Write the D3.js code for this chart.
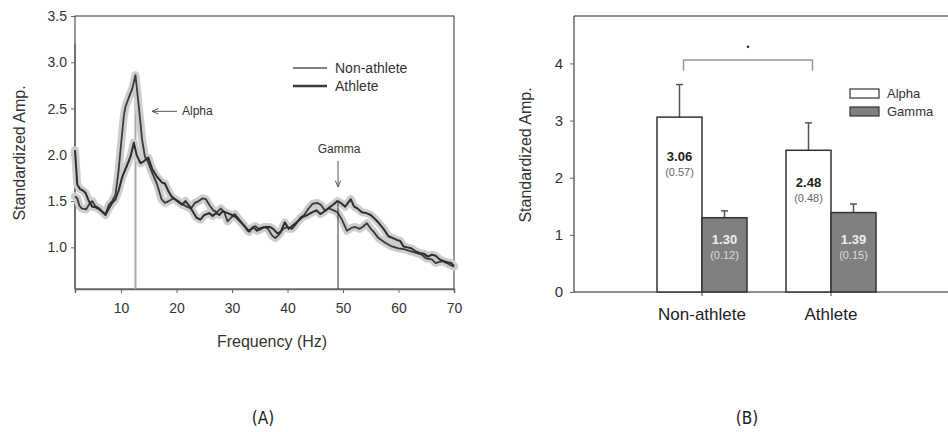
<!DOCTYPE html>
<html>
<head>
<meta charset="utf-8">
<script src="https://cdn.jsdelivr.net/npm/d3@7"></script>
<style>
  body { margin: 0; background: #fff; }
  svg text { font-family: "Liberation Sans", Arial, sans-serif; }
</style>
</head>
<body>
<div id="chart"></div>
<script>
// ---- panel A data: [frequency Hz, standardized amplitude] ----
const nonAthlete = [
  [1.7,1.55],[2.1,1.53],[2.5,1.45],[2.9,1.42],[3.7,1.41],[4.3,1.47],[4.8,1.5],[5.3,1.45],
  [6.1,1.42],[6.7,1.38],[7.2,1.36],[7.8,1.46],[8.4,1.5],[9.0,1.57],[9.5,1.8],[9.9,2.05],
  [10.5,2.42],[10.8,2.52],[11.4,2.62],[12.0,2.71],[12.6,2.86],[13.2,2.52],[13.8,2.16],
  [14.3,1.98],[14.8,1.93],[15.5,1.82],[16.5,1.68],[17.3,1.52],[17.9,1.48],[18.6,1.5],
  [19.5,1.53],[20.3,1.5],[21.0,1.47],[21.8,1.44],[22.6,1.42],[23.3,1.48],[24.0,1.5],
  [24.7,1.53],[25.3,1.52],[26.0,1.45],[26.6,1.40],[27.3,1.38],[28.0,1.42],[28.6,1.38],
  [29.2,1.28],[29.8,1.32],[30.5,1.36],[31.3,1.3],[32.0,1.25],[32.8,1.18],[33.5,1.2],
  [34.2,1.23],[35.0,1.19],[35.8,1.22],[36.5,1.2],[37.2,1.13],[37.8,1.1],[38.5,1.14],
  [39.2,1.2],[40.0,1.22],[40.8,1.2],[41.5,1.25],[42.3,1.32],[43.0,1.35],[43.8,1.42],
  [44.5,1.47],[45.3,1.48],[46.0,1.46],[46.7,1.40],[47.5,1.42],[48.3,1.4],[49.0,1.38],
  [49.8,1.3],[50.7,1.18],[51.5,1.21],[52.2,1.22],[53.0,1.2],[53.5,1.22],[54.3,1.26],
  [55.0,1.2],[55.5,1.17],[56.4,1.10],[57.6,1.05],[58.8,1.01],[60.0,0.99],[61.0,0.98],
  [62.1,0.96],[63.2,0.94],[64.2,0.92],[65.0,0.88],[66.0,0.87],[66.7,0.83],[67.2,0.84],
  [68.0,0.85],[68.7,0.83],[69.3,0.81],[70,0.79]
];
const athlete = [
  [1.7,2.05],[2.1,1.68],[2.6,1.63],[3.0,1.62],[3.6,1.59],[4.2,1.5],[4.8,1.44],[5.5,1.43],
  [6.1,1.41],[6.7,1.38],[7.2,1.35],[7.8,1.42],[8.4,1.48],[9.0,1.52],[9.6,1.62],[10.2,1.76],
  [11.1,1.89],[11.7,1.98],[12.3,2.13],[12.8,2.0],[13.5,1.91],[14.1,1.93],[14.9,1.97],
  [15.6,1.85],[16.5,1.76],[17.4,1.7],[17.9,1.69],[18.6,1.6],[19.1,1.55],[20.3,1.49],
  [21.0,1.46],[21.6,1.5],[22.4,1.44],[23.0,1.38],[23.6,1.32],[24.3,1.3],[25.0,1.35],
  [25.9,1.37],[26.5,1.34],[27.1,1.37],[27.7,1.35],[28.3,1.39],[29.2,1.37],[30.0,1.35],
  [30.8,1.32],[31.6,1.27],[32.4,1.22],[33.1,1.17],[33.8,1.22],[34.5,1.18],[35.2,1.21],
  [36.0,1.22],[36.8,1.22],[37.4,1.2],[38.2,1.15],[38.8,1.17],[39.5,1.27],[40.2,1.2],
  [41.0,1.24],[41.8,1.28],[42.8,1.33],[43.6,1.35],[44.5,1.38],[45.2,1.4],[45.9,1.36],
  [46.7,1.39],[47.5,1.43],[48.2,1.46],[49.0,1.5],[49.6,1.48],[50.4,1.44],[51.0,1.49],
  [51.4,1.52],[52.0,1.44],[52.6,1.42],[53.4,1.38],[54.2,1.37],[55.0,1.35],[55.7,1.31],
  [56.5,1.26],[57.3,1.2],[58.2,1.12],[59.0,1.1],[59.7,1.08],[60.3,1.07],[60.9,1.01],
  [61.6,1.0],[62.3,0.99],[63.0,0.96],[63.8,0.94],[64.6,0.93],[65.3,0.9],[66.0,0.92],
  [66.7,0.91],[67.4,0.87],[68.2,0.85],[68.8,0.84],[69.5,0.83],[70,0.80]
];
const freqTicks = [10, 20, 30, 40, 50, 60, 70];
const ampTicksA = [1.0, 1.5, 2.0, 2.5, 3.0, 3.5];
// marker lines: [frequency, amplitude at top of line, label]
const peakMarks = [[12.6, 2.86, "Alpha"], [49.1, 1.5, "Gamma"]];

// ---- panel B data ----
const groups = ["Non-athlete", "Athlete"];
const bands = ["Alpha", "Gamma"];
const alphaMean = [3.06, 2.48];
const alphaSD = [0.57, 0.48];
const gammaMean = [1.30, 1.39];
const gammaSD = [0.12, 0.15];
const ampTicksB = [0, 1, 2, 3, 4];

const FONT = "'Liberation Sans', Arial, sans-serif";

const svg = d3.select("#chart").append("svg")
    .attr("width", 948).attr("height", 432);

// ================= Panel A =================
const xA = d3.scaleLinear().domain([1.7, 70]).range([75, 454]);
const yA = d3.scaleLinear().domain([0.55, 3.5]).range([289, 16]);
const gA = svg.append("g");

// frame
gA.append("rect").attr("x", 75).attr("y", 16).attr("width", 379).attr("height", 273)
    .attr("fill", "none").attr("stroke", "#333").attr("stroke-width", 1);

// axes
const axisLeftA = gA.append("g").attr("transform", "translate(75,0)")
    .call(d3.axisLeft(yA).tickValues(ampTicksA).tickFormat(d3.format(".1f")).tickSize(4).tickPadding(4));
const axisBottomA = gA.append("g").attr("transform", "translate(0,289)")
    .call(d3.axisBottom(xA).tickValues(freqTicks).tickSize(4).tickPadding(10));
[axisLeftA, axisBottomA].forEach(a => {
  a.attr("font-family", FONT);
  a.select(".domain").attr("stroke", "#666").attr("stroke-width", 1.5);
  a.selectAll(".tick line").attr("stroke", "#666");
  a.selectAll("text").attr("font-size", 14).attr("fill", "#333");
});
axisLeftA.select(".domain").attr("d", "M0," + yA(3.2) + "V289");

gA.append("text").attr("x", 272).attr("y", 347).attr("text-anchor", "middle")
    .attr("font-size", 16).attr("fill", "#333").text("Frequency (Hz)");
gA.append("text").attr("transform", "translate(25,153) rotate(-90)")
    .attr("text-anchor", "middle").attr("font-size", 16).attr("fill", "#333")
    .text("Standardized Amp.");

// peak marker lines
gA.append("line").attr("x1", xA(peakMarks[0][0])).attr("x2", xA(peakMarks[0][0]))
    .attr("y1", yA(peakMarks[0][1])).attr("y2", 289)
    .attr("stroke", "#aaa").attr("stroke-width", 2);

const line = d3.line().x(d => xA(d[0])).y(d => yA(d[1])).curve(d3.curveLinear);

// SE shading drawn as a wide soft stroke behind each curve
[nonAthlete, athlete].forEach(s => {
  gA.append("path").datum(s).attr("d", line).attr("fill", "none")
    .attr("stroke", "#cdcdcd").attr("stroke-width", 8).attr("stroke-linejoin", "round")
    .attr("stroke-linecap", "round");
});
gA.append("path").datum(nonAthlete).attr("d", line).attr("fill", "none")
    .attr("stroke", "#3a3a3a").attr("stroke-width", 1.8).attr("stroke-linejoin", "round");
gA.append("path").datum(athlete).attr("d", line).attr("fill", "none")
    .attr("stroke", "#2e2e2e").attr("stroke-width", 2).attr("stroke-linejoin", "round");

gA.append("line").attr("x1", xA(peakMarks[1][0])).attr("x2", xA(peakMarks[1][0]))
    .attr("y1", yA(peakMarks[1][1])).attr("y2", 289)
    .attr("stroke", "#333").attr("stroke-width", 1);

// annotations
const arrow = (g, x1, y1, x2, y2) => {
  g.append("line").attr("x1", x1).attr("y1", y1).attr("x2", x2).attr("y2", y2)
    .attr("stroke", "#555").attr("stroke-width", 1);
  const ang = Math.atan2(y2 - y1, x2 - x1), L = 7, w = 0.4;
  g.append("path")
    .attr("d", `M${x2},${y2}L${x2 - L * Math.cos(ang - w)},${y2 - L * Math.sin(ang - w)}M${x2},${y2}L${x2 - L * Math.cos(ang + w)},${y2 - L * Math.sin(ang + w)}`)
    .attr("stroke", "#555").attr("fill", "none").attr("stroke-width", 1);
};
arrow(gA, 177, yA(2.47), 152, yA(2.47));
gA.append("text").attr("x", 182).attr("y", yA(2.47) + 4).attr("font-size", 12)
    .attr("fill", "#333").text(peakMarks[0][2]);
arrow(gA, xA(peakMarks[1][0]), 161, xA(peakMarks[1][0]), 187);
gA.append("text").attr("x", xA(peakMarks[1][0]) + 1).attr("y", 153).attr("font-size", 12)
    .attr("text-anchor", "middle").attr("fill", "#333").text(peakMarks[1][2]);

// legend
const legA = gA.append("g");
[["Non-athlete", 1.3, "#555", 68], ["Athlete", 2.4, "#3a3a3a", 86]].forEach(([t, w, c, yy]) => {
  legA.append("line").attr("x1", 293).attr("x2", 327).attr("y1", yy).attr("y2", yy)
    .attr("stroke", c).attr("stroke-width", w);
  legA.append("text").attr("x", 335).attr("y", yy + 5).attr("font-size", 14)
    .attr("fill", "#333").text(t);
});

// ================= Panel B =================
const yB = d3.scaleLinear().domain([0, 4.83]).range([292, 16]);
const xB = d3.scaleBand().domain(groups).range([637.5, 895.5]);
const xSub = d3.scaleBand().domain(bands).range([19.5, 109.5]);
const gB = svg.append("g");

gB.append("line").attr("x1", 574).attr("x2", 948).attr("y1", 16).attr("y2", 16)
    .attr("stroke", "#222");
gB.append("line").attr("x1", 574).attr("x2", 574).attr("y1", 16).attr("y2", 45)
    .attr("stroke", "#222");

const axisLeftB = gB.append("g").attr("transform", "translate(574,0)")
    .call(d3.axisLeft(yB).tickValues(ampTicksB).tickFormat(d3.format("d")).tickSize(4).tickPadding(7));
axisLeftB.attr("font-family", FONT);
axisLeftB.select(".domain").attr("d", "M0,45V292").attr("stroke", "#666").attr("stroke-width", 1.5);
axisLeftB.selectAll(".tick line").attr("stroke", "#666");
axisLeftB.selectAll("text").attr("font-size", 15).attr("fill", "#333");

const axisBottomB = gB.append("g").attr("transform", "translate(0,292)")
    .call(d3.axisBottom(xB).tickSize(4).tickPadding(12));
axisBottomB.attr("font-family", FONT);
axisBottomB.select(".domain").attr("d", "M574,0H948").attr("stroke", "#666").attr("stroke-width", 1.5);
axisBottomB.selectAll(".tick line").attr("stroke", "#444");
axisBottomB.selectAll("text").attr("font-size", 17).attr("fill", "#222");

gB.append("text").attr("transform", "translate(531,155) rotate(-90)")
    .attr("text-anchor", "middle").attr("font-size", 16).attr("fill", "#333")
    .text("Standardized Amp.");

const barData = [];
groups.forEach((g, i) => {
  barData.push({group: g, band: "Alpha", mean: alphaMean[i], sd: alphaSD[i]});
  barData.push({group: g, band: "Gamma", mean: gammaMean[i], sd: gammaSD[i]});
});

const bar = gB.selectAll(".bar").data(barData).enter().append("g").attr("class", "bar")
    .attr("transform", d => `translate(${xB(d.group) + xSub(d.band)},0)`);
const bw = xSub.bandwidth();

// error bars (upper only)
bar.append("line").attr("x1", bw / 2).attr("x2", bw / 2)
    .attr("y1", d => yB(d.mean)).attr("y2", d => yB(d.mean + d.sd))
    .attr("stroke", "#555").attr("stroke-width", 1.5);
bar.append("line").attr("x1", bw / 2 - 3.5).attr("x2", bw / 2 + 3.5)
    .attr("y1", d => yB(d.mean + d.sd)).attr("y2", d => yB(d.mean + d.sd))
    .attr("stroke", "#555").attr("stroke-width", 1.5);

bar.append("rect").attr("x", 0).attr("width", bw)
    .attr("y", d => yB(d.mean)).attr("height", d => yB(0) - yB(d.mean))
    .attr("fill", d => d.band === "Alpha" ? "#fff" : "#808080")
    .attr("stroke", "#333").attr("stroke-width", 1.5);

const labelY = d => d.band === "Alpha" ? yB(d.mean * 0.775) : yB(0.93);
bar.append("text").attr("x", bw / 2).attr("y", d => labelY(d) + 5)
    .attr("text-anchor", "middle").attr("font-size", 13).attr("font-weight", "bold")
    .attr("fill", d => d.band === "Alpha" ? "#222" : "#eee")
    .text(d => d.mean.toFixed(2));
bar.append("text").attr("x", bw / 2).attr("y", d => labelY(d) + 20)
    .attr("text-anchor", "middle").attr("font-size", 11)
    .attr("fill", d => d.band === "Alpha" ? "#666" : "#ddd")
    .text(d => "(" + d.sd.toFixed(2) + ")");

// significance bracket between alpha bars
const bx1 = xB(groups[0]) + xSub("Alpha") + bw / 2 + 4;
const bx2 = xB(groups[1]) + xSub("Alpha") + bw / 2 + 4;
gB.append("path")
    .attr("d", `M${bx1},${yB(3.87)}V${yB(4.06)}H${bx2}V${yB(3.87)}`)
    .attr("fill", "none").attr("stroke", "#999").attr("stroke-width", 1.5);
gB.append("circle").attr("cx", (bx1 + bx2) / 2).attr("cy", yB(4.29)).attr("r", 1.3)
    .attr("fill", "#333");

// legend
const legB = gB.append("g");
bands.forEach((b, i) => {
  legB.append("rect").attr("x", 850).attr("y", 89 + i * 18).attr("width", 29).attr("height", 9)
    .attr("fill", b === "Alpha" ? "#fff" : "#808080").attr("stroke", "#333").attr("stroke-width", 1.2);
  legB.append("text").attr("x", 887).attr("y", 98 + i * 18).attr("font-size", 13)
    .attr("fill", "#333").text(b);
});

// panel labels
svg.append("text").attr("x", 263).attr("y", 424).attr("text-anchor", "middle")
    .attr("font-size", 17).style("font-family", "'Liberation Sans Narrow', 'DejaVu Sans Condensed', sans-serif")
    .attr("fill", "#222").text("(A)");
svg.append("text").attr("x", 747).attr("y", 424).attr("text-anchor", "middle")
    .attr("font-size", 17).style("font-family", "'Liberation Sans Narrow', 'DejaVu Sans Condensed', sans-serif")
    .attr("fill", "#222").text("(B)");
</script>
</body>
</html>
